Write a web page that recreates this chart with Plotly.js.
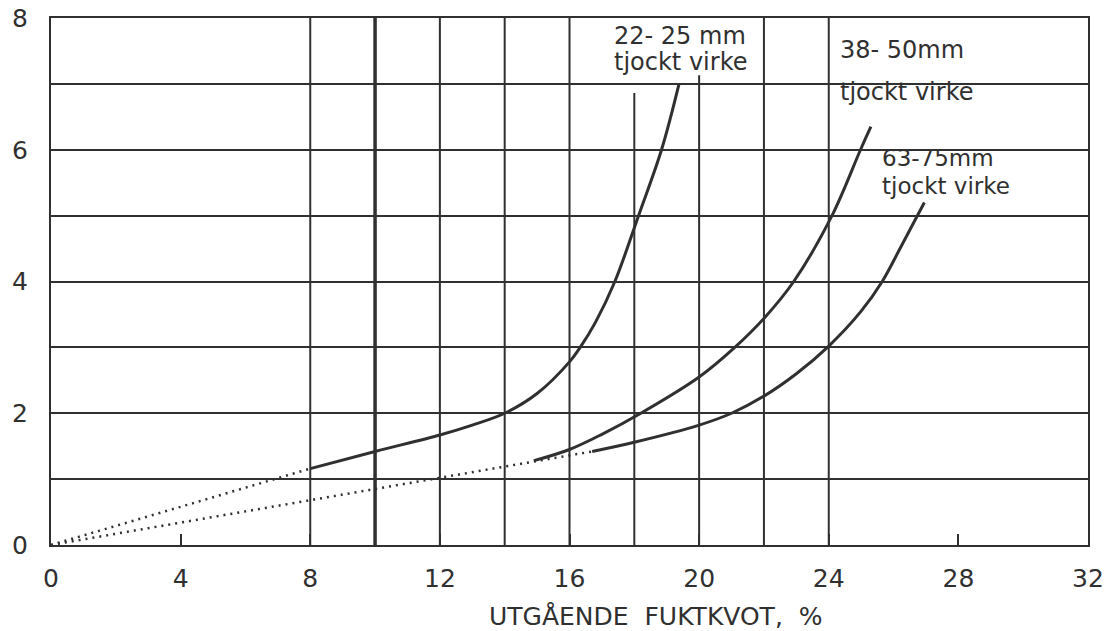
<!DOCTYPE html>
<html>
<head>
<meta charset="utf-8">
<script src="https://cdn.plot.ly/plotly-3.0.1.min.js"></script>
<style>
html,body{margin:0;padding:0;background:#ffffff;}
#chart{width:1114px;height:631px;}
</style>
</head>
<body>
<div id="chart"></div>
<script>
// ---- data ----
// 22-25 mm thick timber (solid part)
const moisture22 = [8, 10, 12, 13, 14, 15, 16, 16.33, 16.8, 17.4, 18.13, 18.84, 19.38];
const time22     = [1.16, 1.42, 1.67, 1.82, 2.0, 2.3, 2.78, 3.0, 3.38, 4.0, 5.0, 6.0, 7.0];
// 38-50 mm thick timber (solid part)
const moisture38 = [14.9, 16, 17, 18.2, 20, 21.1, 22, 22.92, 24.1, 24.98, 25.3];
const time38     = [1.28, 1.45, 1.68, 2.0, 2.55, 3.0, 3.44, 4.0, 5.0, 6.0, 6.35];
// 63-75 mm thick timber (solid part)
const moisture63 = [16.7, 18, 20, 21, 22, 23, 24, 25, 25.65, 26.2, 26.95];
const time63     = [1.42, 1.56, 1.82, 2.0, 2.26, 2.6, 3.02, 3.55, 4.0, 4.5, 5.2];
// dotted extrapolations to the origin
const dotUpperX = [0, 8];
const dotUpperY = [0, 1.16];
const dotLowerX = [0, 16.7];
const dotLowerY = [0, 1.42];
// axis ticks
const xTicks = [0, 4, 8, 12, 16, 20, 24, 28, 32];
const yTicks = [0, 2, 4, 6, 8];
// curve labels
const labelTexts = ['22- 25 mm', 'tjockt virke', '38- 50mm', 'tjockt virke', '63-75mm', 'tjockt virke'];
const xTitle = 'UTGÅENDE  FUKTKVOT,  %';

// ---- styling / layout ----
const ink = '#303030';
const font = 'DejaVu Sans, Liberation Sans, sans-serif';

function curve(x, y) {
  return {x: x, y: y, type: 'scatter', mode: 'lines', hoverinfo: 'skip',
          line: {color: ink, width: 3, shape: 'spline', smoothing: 1}};
}
function dotted(x, y) {
  return {x: x, y: y, type: 'scatter', mode: 'lines', hoverinfo: 'skip',
          line: {color: ink, width: 2.5, dash: '2px,5px'}};
}

const traces = [
  dotted(dotUpperX, dotUpperY),
  dotted(dotLowerX, dotLowerY),
  curve(moisture22, time22),
  curve(moisture38, time38),
  curve(moisture63, time63)
];

// vertical grid lines (x = 8 ... 24), two of them interrupted by the label
const gridX   = [8, 10, 12, 14, 16, 18, 20, 22, 24];
const gridTop = [8, 8, 8, 8, 8, 6.86, 7.13, 8, 8];
const gridW   = [2, 3.5, 2, 2, 2, 2, 2, 2, 2];
const shapes = gridX.map((gx, i) => ({
  type: 'line', xref: 'x', yref: 'y', x0: gx, x1: gx, y0: 0, y1: gridTop[i],
  line: {color: ink, width: gridW[i]}, layer: 'below'
}));

const labelPos = [
  {x: 19.41, y: 7.72, xanchor: 'center', size: 24},
  {x: 19.41, y: 7.33, xanchor: 'center', size: 24},
  {x: 24.29, y: 7.51, xanchor: 'left', size: 24},
  {x: 24.29, y: 6.87, xanchor: 'left', size: 24},
  {x: 25.59, y: 5.87, xanchor: 'left', size: 23},
  {x: 25.59, y: 5.45, xanchor: 'left', size: 23}
];
const annotations = labelTexts.map((t, i) => ({
  text: t, xref: 'x', yref: 'y', x: labelPos[i].x, y: labelPos[i].y,
  xanchor: labelPos[i].xanchor, yanchor: 'middle', showarrow: false,
  font: {family: font, size: labelPos[i].size, color: ink}
}));
annotations.push({
  text: xTitle, xref: 'paper', yref: 'paper', x: 0.5825, y: -0.135,
  xanchor: 'center', yanchor: 'middle', showarrow: false,
  font: {family: font, size: 25, color: ink}
});

const layout = {
  width: 1114, height: 631,
  margin: {l: 51, r: 26, t: 18, b: 86},
  paper_bgcolor: '#ffffff', plot_bgcolor: '#ffffff',
  showlegend: false,
  font: {family: font, color: ink},
  xaxis: {
    range: [0, 32], tickvals: xTicks, ticktext: xTicks.map(String),
    showgrid: false, zeroline: false,
    showline: true, mirror: true, linecolor: ink, linewidth: 2,
    ticks: 'inside', ticklen: 11, tickwidth: 2, tickcolor: ink,
    ticklabelstandoff: 10,
    tickfont: {family: font, size: 25, color: ink},
    fixedrange: true
  },
  yaxis: {
    range: [0, 8], tickvals: yTicks, ticktext: yTicks.map(String),
    showgrid: true, gridcolor: ink, gridwidth: 2,
    minor: {dtick: 1, showgrid: true, gridcolor: ink, gridwidth: 2},
    zeroline: false,
    showline: true, mirror: true, linecolor: ink, linewidth: 2,
    ticks: '', ticklabelstandoff: 16,
    tickfont: {family: font, size: 25, color: ink},
    fixedrange: true
  },
  shapes: shapes,
  annotations: annotations
};

Plotly.newPlot('chart', traces, layout, {displayModeBar: false, staticPlot: true});
</script>
</body>
</html>
